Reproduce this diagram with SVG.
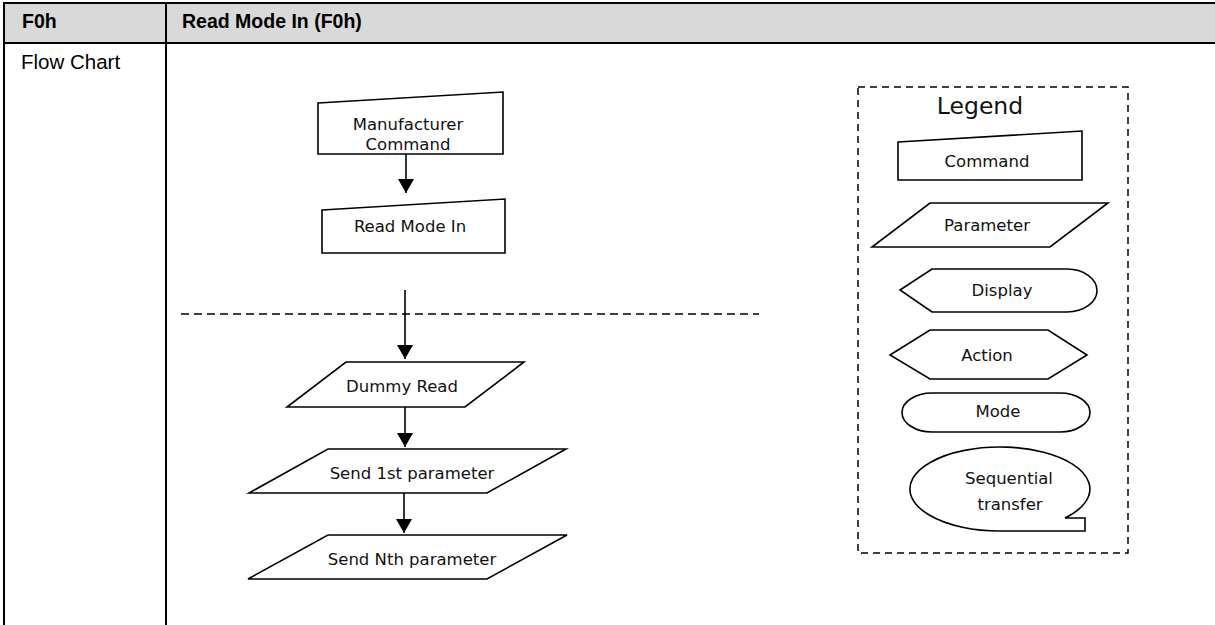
<svg xmlns="http://www.w3.org/2000/svg" width="1215" height="625" viewBox="0 0 1215 625">
  <style>
    .tbl { stroke: #000; stroke-width: 2; fill: none; }
    .hdr { font-family: "Liberation Sans", Arial, sans-serif; font-size: 19.5px; font-weight: bold; fill: #000; }
    .cell { font-family: "Liberation Sans", Arial, sans-serif; font-size: 20.5px; fill: #000; }
    .shape { fill: #fff; stroke: #000; stroke-width: 1.6; stroke-linejoin: miter; }
    .lbl { font-family: "DejaVu Sans", "Liberation Sans", sans-serif; font-size: 16.5px; fill: #111; text-anchor: middle; }
    .conn { stroke: #000; stroke-width: 1.6; fill: none; }
    .dash { stroke: #000; stroke-width: 1.5; fill: none; stroke-dasharray: 8 5; }
  </style>
  <defs>
    <marker id="arrow" markerUnits="userSpaceOnUse" markerWidth="14" markerHeight="16" viewBox="0 0 14 16" refX="14" refY="8" orient="auto">
      <path d="M0,0 L14,8 L0,16 Z" fill="#000"/>
    </marker>
  </defs>

  <g id="table">
    <rect x="3" y="3" width="1212" height="40" fill="#d9d9d9"/>
    <line class="tbl" x1="3" y1="3" x2="1215" y2="3"/>
    <line class="tbl" x1="3" y1="43" x2="1215" y2="43"/>
    <line class="tbl" x1="4" y1="2" x2="4" y2="625"/>
    <line class="tbl" x1="166" y1="2" x2="166" y2="625"/>
    <text class="hdr" x="22" y="28">F0h</text>
    <text class="hdr" x="182" y="28">Read Mode In (F0h)</text>
    <text class="cell" x="21" y="69">Flow Chart</text>
  </g>

  <g id="separator">
    <line class="dash" x1="181" y1="314" x2="759" y2="314"/>
  </g>

  <g id="connectors">
    <line class="conn" x1="406" y1="154" x2="406" y2="193" marker-end="url(#arrow)"/>
    <line class="conn" x1="405" y1="290" x2="405" y2="359" marker-end="url(#arrow)"/>
    <line class="conn" x1="405" y1="407" x2="405" y2="447" marker-end="url(#arrow)"/>
    <line class="conn" x1="404" y1="493" x2="404" y2="533" marker-end="url(#arrow)"/>
  </g>

  <g id="node-manufacturer-command">
    <polygon class="shape" points="318,103 503,92 503,154 318,154"/>
    <text class="lbl" x="408" y="130">Manufacturer</text>
    <text class="lbl" x="408" y="150">Command</text>
  </g>
  <g id="node-read-mode-in">
    <polygon class="shape" points="322,210 505,199 505,253 322,253"/>
    <text class="lbl" x="410" y="232">Read Mode In</text>
  </g>
  <g id="node-dummy-read">
    <polygon class="shape" points="346,362 524,362 465,407 287,407"/>
    <text class="lbl" x="402" y="392">Dummy Read</text>
  </g>
  <g id="node-send-1st">
    <polygon class="shape" points="328,449 566,449 487,493 249,493"/>
    <text class="lbl" x="412" y="479">Send 1st parameter</text>
  </g>
  <g id="node-send-nth">
    <polygon class="shape" points="328,535 567,535 487,579 248,579"/>
    <text class="lbl" x="412" y="565">Send Nth parameter</text>
  </g>

  <g id="legend">
    <rect x="858" y="87" width="270" height="466" fill="none" stroke="#000" stroke-width="1.5" stroke-dasharray="7 5"/>
    <text class="lbl" x="980" y="114" style="font-size:23.5px">Legend</text>
  </g>
  <g id="legend-command">
    <polygon class="shape" points="898,142 1082,131 1082,180 898,180"/>
    <text class="lbl" x="987" y="167">Command</text>
  </g>
  <g id="legend-parameter">
    <polygon class="shape" points="930,203 1108,203 1050,247 872,247"/>
    <text class="lbl" x="987" y="231">Parameter</text>
  </g>
  <g id="legend-display">
    <path class="shape" d="M900,290 L932,269 L1067,269 A30,21.5 0 0 1 1067,312 L932,312 Z"/>
    <text class="lbl" x="1002" y="296">Display</text>
  </g>
  <g id="legend-action">
    <polygon class="shape" points="890,355 930,330 1048,330 1087,355 1048,379 930,379"/>
    <text class="lbl" x="987" y="361">Action</text>
  </g>
  <g id="legend-mode">
    <rect class="shape" x="902" y="393" width="188" height="39" rx="30" ry="19.5"/>
    <text class="lbl" x="998" y="417">Mode</text>
  </g>
  <g id="legend-sequential">
    <path class="shape" d="M1000,531 L1085,531 L1085,518 L1065,518 A90,42 0 1 0 1000,531 Z"/>
    <text class="lbl" x="1009" y="484">Sequential</text>
    <text class="lbl" x="1010" y="510">transfer</text>
  </g>
</svg>
